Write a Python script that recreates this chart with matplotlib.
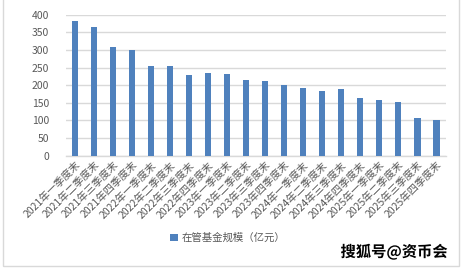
import matplotlib
matplotlib.use("Agg")
import matplotlib.pyplot as plt
import matplotlib.patheffects as pe
from matplotlib.patches import Rectangle

plt.rcParams['font.family'] = ['Noto Sans CJK SC', 'DejaVu Sans']

categories = [
    "2021年一季度末", "2021年二季度末", "2021年三季度末", "2021年四季度末",
    "2022年一季度末", "2022年二季度末", "2022年三季度末", "2022年四季度末",
    "2023年一季度末", "2023年二季度末", "2023年三季度末", "2023年四季度末",
    "2024年一季度末", "2024年二季度末", "2024年三季度末", "2024年四季度末",
    "2025年一季度末", "2025年二季度末", "2025年三季度末", "2025年四季度末",
]
values = [382, 365, 308, 300, 254, 254, 229, 235, 232, 215,
          212, 200, 192, 183, 189, 164, 158, 152, 107, 101]
series_name = "在管基金规模（亿元）"
yticks = [0, 50, 100, 150, 200, 250, 300, 350, 400]

W, H = 463, 269
fig = plt.figure(figsize=(W / 100, H / 100), dpi=100)
ax = fig.add_axes([65.5 / W, 1 - 155.7 / H, (446 - 65.5) / W, (155.7 - 14.7) / H])

x = range(len(categories))
bars = ax.bar(x, values, width=0.32, color="#4F81BD", label=series_name, zorder=3)

ax.set_xlim(-0.5, len(categories) - 0.5)
ax.set_ylim(0, 400)
ax.set_yticks(yticks)
ax.yaxis.grid(True, color="#D9D9D9", linewidth=1.0, zorder=0)
ax.set_axisbelow(True)
for s in ["top", "right", "left"]:
    ax.spines[s].set_visible(False)
ax.spines["bottom"].set_color("#D9D9D9")
ax.spines["bottom"].set_linewidth(1.0)
ax.tick_params(axis="both", length=0, colors="#595959", labelsize=7.5)
ax.tick_params(axis="y", pad=12)
ax.set_xticks(list(x))
ax.set_xticklabels(categories, rotation=45, ha="right", rotation_mode="anchor")
ax.tick_params(axis="x", pad=3)

leg = fig.legend(handles=[bars], labels=[series_name], loc="center",
                 bbox_to_anchor=(228 / W, 1 - 238 / H), frameon=False,
                 fontsize=7.5, handlelength=0.7, handleheight=0.7, handletextpad=0.4)
for t in leg.get_texts():
    t.set_color("#595959")

# chart border
fig.patches.append(Rectangle((2.5 / W, 1 - 265.5 / H), (458.5 - 2.5) / W, 270 / H,
                             transform=fig.transFigure, fill=False,
                             edgecolor="#D9D9D9", linewidth=1.0))

fig.text(394 / W, 1 - 252 / H, "搜狐号@资币会", ha="center", va="center",
         fontsize=11, fontweight="bold", color="black",
         path_effects=[pe.withStroke(linewidth=2, foreground="white")])

fig.savefig("out.png", dpi=100, facecolor="white")
